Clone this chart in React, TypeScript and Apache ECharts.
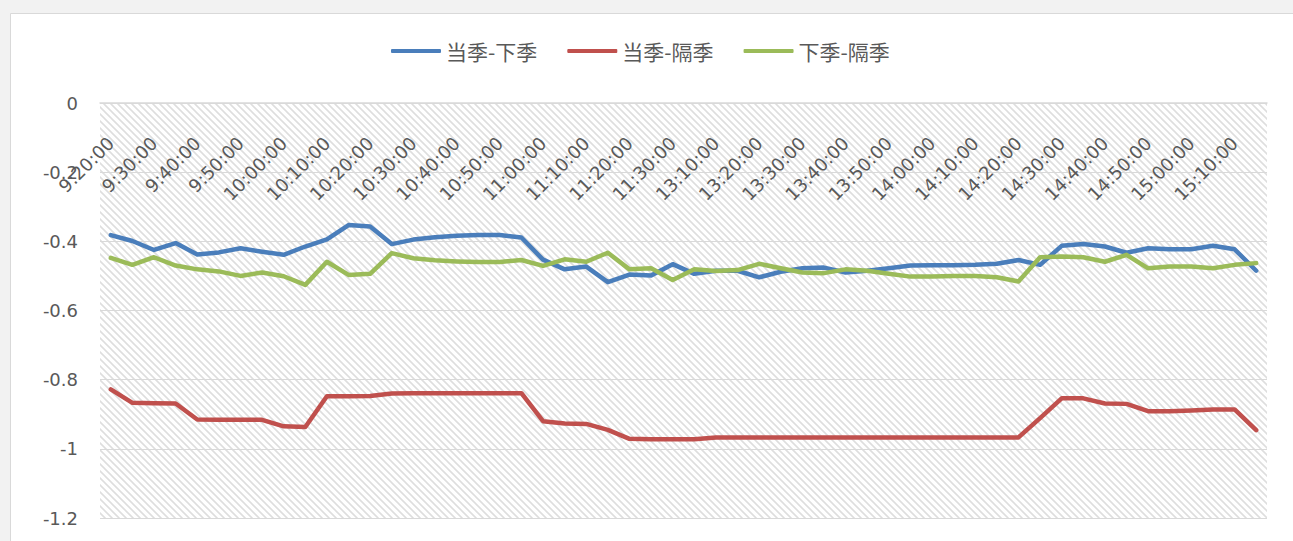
import React, { useEffect, useRef } from 'react';
import * as echarts from 'echarts';

const categories: string[] = [
  '9:20:00', '9:25:00', '9:30:00', '9:35:00', '9:40:00', '9:45:00', '9:50:00', '9:55:00',
  '10:00:00', '10:05:00', '10:10:00', '10:15:00', '10:20:00', '10:25:00', '10:30:00', '10:35:00',
  '10:40:00', '10:45:00', '10:50:00', '10:55:00', '11:00:00', '11:05:00', '11:10:00', '11:15:00',
  '11:20:00', '11:25:00', '11:30:00', '13:05:00', '13:10:00', '13:15:00', '13:20:00', '13:25:00',
  '13:30:00', '13:35:00', '13:40:00', '13:45:00', '13:50:00', '13:55:00', '14:00:00', '14:05:00',
  '14:10:00', '14:15:00', '14:20:00', '14:25:00', '14:30:00', '14:35:00', '14:40:00', '14:45:00',
  '14:50:00', '14:55:00', '15:00:00', '15:05:00', '15:10:00', '15:15:00',
];

const seriesNames: string[] = ['当季-下季', '当季-隔季', '下季-隔季'];

const dangXia: number[] = [
  -0.382, -0.399, -0.425, -0.405, -0.438, -0.432, -0.420, -0.430, -0.439, -0.415,
  -0.394, -0.353, -0.357, -0.408, -0.395, -0.388, -0.384, -0.382, -0.382, -0.389,
  -0.453, -0.481, -0.473, -0.518, -0.496, -0.499, -0.466, -0.494, -0.485, -0.485,
  -0.504, -0.488, -0.478, -0.476, -0.490, -0.485, -0.478, -0.470, -0.469, -0.469,
  -0.468, -0.465, -0.454, -0.468, -0.413, -0.408, -0.415, -0.433, -0.420, -0.423,
  -0.423, -0.413, -0.423, -0.485,
];

const dangGe: number[] = [
  -0.828, -0.867, -0.868, -0.869, -0.915, -0.916, -0.916, -0.916, -0.935, -0.937,
  -0.848, -0.848, -0.847, -0.840, -0.839, -0.839, -0.839, -0.839, -0.839, -0.839,
  -0.920, -0.927, -0.928, -0.945, -0.971, -0.972, -0.972, -0.972, -0.967, -0.967,
  -0.967, -0.967, -0.967, -0.967, -0.967, -0.967, -0.967, -0.967, -0.967, -0.967,
  -0.967, -0.967, -0.967, -0.911, -0.854, -0.854, -0.869, -0.870, -0.891, -0.891,
  -0.889, -0.886, -0.886, -0.946,
];

const xiaGe: number[] = [
  -0.448, -0.468, -0.446, -0.470, -0.481, -0.487, -0.500, -0.490, -0.501, -0.526,
  -0.459, -0.497, -0.494, -0.434, -0.449, -0.455, -0.458, -0.460, -0.460, -0.454,
  -0.471, -0.452, -0.459, -0.433, -0.481, -0.478, -0.512, -0.481, -0.486, -0.483,
  -0.465, -0.478, -0.490, -0.492, -0.481, -0.485, -0.494, -0.502, -0.502, -0.500,
  -0.500, -0.504, -0.516, -0.446, -0.444, -0.446, -0.459, -0.439, -0.478, -0.473,
  -0.473, -0.478, -0.468, -0.463,
];

const colors: string[] = ['#4a7ebb', '#c0504d', '#9bbb59'];

const hatchSvg =
  "<svg xmlns='http://www.w3.org/2000/svg' width='7' height='7'>" +
  "<path d='M0,0 L7,7 M-1,6 L1,8 M6,-1 L8,1' stroke='#dedede' stroke-width='1.6' fill='none'/></svg>";
const hatchUrl = 'data:image/svg+xml;charset=utf-8,' + encodeURIComponent(hatchSvg);

export default function App() {
  const ref = useRef<HTMLDivElement>(null);

  useEffect(() => {
    if (!ref.current) return;
    const chart = echarts.init(ref.current, null, { renderer: 'svg' });
    const numFont = 'DejaVu Sans';
    chart.setOption({
      animation: false,
      backgroundColor: 'transparent',
      color: colors,
      graphic: [
        {
          type: 'rect',
          z: -10,
          silent: true,
          shape: { x: 10.5, y: 13.5, width: 1400, height: 700 },
          style: { fill: '#ffffff', stroke: '#d9d9d9', lineWidth: 1 },
        },
      ],
      legend: {
        left: 386,
        top: 34,
        itemWidth: 50,
        itemHeight: 4,
        itemGap: 30,
        icon: 'roundRect',
        textStyle: {
          fontFamily: 'Noto Sans CJK SC',
          fontSize: 21,
          color: '#595959',
          lineHeight: 24,
        },
        data: seriesNames,
      },
      grid: {
        left: 100,
        top: 103,
        right: 26,
        bottom: 23,
        containLabel: false,
        outerBoundsMode: 'none',
        show: true,
        borderWidth: 0,
        backgroundColor: {
          image: hatchUrl,
          repeat: 'repeat',
          imageWidth: 7,
          imageHeight: 7,
        },
      },
      xAxis: {
        type: 'category',
        position: 'top',
        data: categories,
        boundaryGap: true,
        axisLine: { onZero: false, lineStyle: { color: '#d9d9d9', width: 1.5 } },
        axisTick: { show: false },
        axisLabel: {
          inside: true,
          interval: 1,
          rotate: -45,
          margin: 37,
          fontFamily: numFont,
          fontSize: 18,
          color: '#595959',
        },
        splitLine: { show: false },
      },
      yAxis: {
        type: 'value',
        min: -1.2,
        max: 0,
        interval: 0.2,
        axisLine: { show: false },
        axisTick: { show: false },
        axisLabel: {
          margin: 22,
          fontFamily: numFont,
          fontSize: 18,
          color: '#595959',
        },
        splitLine: { lineStyle: { color: '#d9d9d9', width: 1 } },
      },
      series: [
        { name: seriesNames[0], data: dangXia },
        { name: seriesNames[1], data: dangGe },
        { name: seriesNames[2], data: xiaGe },
      ].map((s, i) => ({
        type: 'line',
        name: s.name,
        data: s.data,
        symbol: 'none',
        showSymbol: false,
        smooth: false,
        lineStyle: { width: 4.5, color: colors[i], cap: 'round', join: 'round' },
        itemStyle: { color: colors[i] },
      })),
    });
    return () => chart.dispose();
  }, []);

  return (
    <div
      ref={ref}
      style={{ position: 'absolute', left: 0, top: 0, width: 1293, height: 541, background: '#f2f2f2' }}
    />
  );
}
